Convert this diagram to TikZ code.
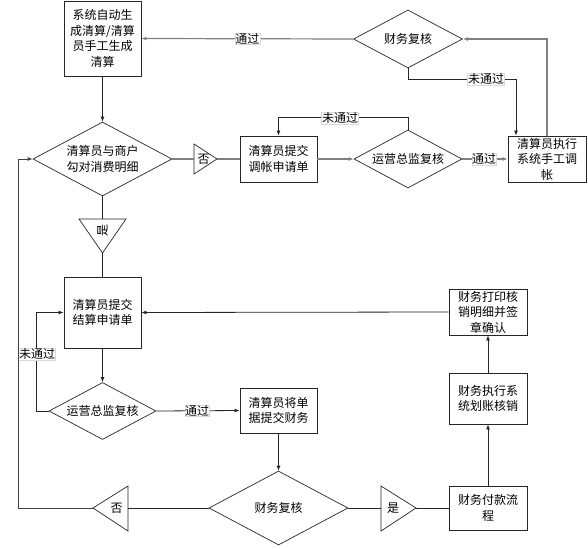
\documentclass[tikz,border=0pt]{standalone}
\usepackage{fontspec}
\newfontfamily\cjk{Noto Sans CJK SC}
\usetikzlibrary{shapes.geometric,arrows.meta}
\begin{document}
\begin{tikzpicture}[x=1pt,y=-1pt,
  txt/.style={font=\cjk\fontsize{12}{15.5}\selectfont},
  box/.style={txt,draw=black!85,line width=0.8pt,inner sep=0pt,align=center},
  dia/.style={txt,draw=black!85,line width=0.7pt,shape=diamond,inner sep=0pt,align=center},
  tri/.style={draw=black!85,line width=0.7pt},
  bline/.style={draw=black!85,line width=0.8pt},
  gline/.style={draw=black!50,line width=1.2pt},
  arr/.style={-{Latex[length=5pt,width=4pt]}},
  lbl/.style={txt,fill=white,draw=black!15,line width=0.3pt,inner sep=0.4pt}]
\useasboundingbox (0,0) rectangle (588,548);
% boxes
\node[box,minimum width=77pt,minimum height=75pt] (b1) at (102.5,38.5) {系统自动生\\成清算/清算\\员手工生成\\清算};
\node[box,minimum width=77pt,minimum height=46pt] (b2) at (278.5,159) {清算员提交\\调帐申请单};
\node[box,minimum width=78pt,minimum height=46pt] (b5) at (547,159) {清算员执行\\系统手工调\\帐};
\node[box,minimum width=77pt,minimum height=71pt] (b3) at (102.5,312.5) {清算员提交\\结算申请单};
\node[box,minimum width=77pt,minimum height=45pt] (b4) at (278.5,410.5) {清算员将单\\据提交财务};
\node[box,minimum width=78pt,minimum height=46pt] (b6) at (488,312) {财务打印核\\销明细并签\\章确认};
\node[box,minimum width=78pt,minimum height=51pt] (b7) at (488,398.5) {财务执行系\\统划账核销};
\node[box,minimum width=78pt,minimum height=44pt] (b8) at (488,508) {财务付款流\\程};
% diamonds
\node[dia,shape aspect=1.88,minimum width=139pt,minimum height=74pt] (d1) at (102.5,159) {清算员与商户\\勾对消费明细};
\node[dia,shape aspect=1.88,minimum width=107pt,minimum height=57pt] (d2) at (102.5,411) {运营总监复核};
\node[dia,shape aspect=1.88,minimum width=139pt,minimum height=74pt] (d3) at (278.5,508) {财务复核};
\node[dia,shape aspect=1.88,minimum width=108pt,minimum height=58pt] (d4) at (408,159) {运营总监复核};
\node[dia,shape aspect=1.88,minimum width=109pt,minimum height=58pt] (d5) at (408,39) {财务复核};
% triangles
\coordinate (t1b) at (194,159); \coordinate (t1a) at (217,159);
\draw[tri] (194,144) -- (t1a) -- (194,174) -- cycle;
\node[txt] (t1) at (203.5,159) {否};
\coordinate (t2b) at (102.5,219); \coordinate (t2a) at (102.5,253);
\draw[tri] (79,219) -- (126,219) -- (t2a) -- cycle;
\node[txt,rotate=90] (t2) at (102.5,230) {是};
\coordinate (t3b) at (128,508); \coordinate (t3a) at (93,508);
\draw[tri] (128,486) -- (t3a) -- (128,531) -- cycle;
\node[txt] (t3) at (116.5,508) {否};
\coordinate (t4b) at (381,508); \coordinate (t4a) at (416,508);
\draw[tri] (381,486) -- (t4a) -- (381,531) -- cycle;
\node[txt] (t4) at (393,508) {是};
% connectors
\draw[bline,arr] (b1.south) -- (d1.north);
\draw[gline] (d1.east) -- (t1b);
\draw[gline] (t1a) -- (b2.west);
\draw[bline] (d1.south) -- (t2b);
\draw[bline] (t2a) -- (b3.north);
\draw[bline,arr] (b3.south) -- (d2.north);
\draw[bline,arr] (d2.west) -- ++(-12,0) |- (b3.west);
\node[lbl] at (37,354) {未通过};
\draw[bline,arr] (d2.east) -- node[lbl,pos=0.49]{通过} (b4.west);
\draw[bline,arr] (b4.south) -- (d3.north);
\draw[bline] (d3.west) -- (t3b);
\draw[bline,draw=black!75,arr] (t3a) -- (18,508) |- (d1.west);
\draw[bline] (d3.east) -- (t4b);
\draw[bline] (t4a) -- (b8.west);
\draw[bline,arr] (b8.north) -- (b7.south);
\draw[bline,arr] (b7.north) -- (b6.south);
\draw[bline,arr] (b6.west) -- (b3.east);
\draw[gline,arr] (b2.east) -- (d4.west);
\draw[bline,arr] (d4.north) -- ++(0,-12) -| (b2.north);
\node[lbl] at (340,118) {未通过};
\draw[gline,arr] (d4.east) -- node[lbl,pos=0.48]{通过} (b5.west);
\draw[gline,arr] (b5.north) |- (d5.east);
\coordinate (x516) at (516,0);
\draw[bline,arr] (d5.south) -- ++(0,11) -| (b5.north -| x516);
\node[lbl] at (486,79) {未通过};
\draw[gline,arr] (d5.west) -- node[lbl]{通过} (b1.east);
\end{tikzpicture}
\end{document}
